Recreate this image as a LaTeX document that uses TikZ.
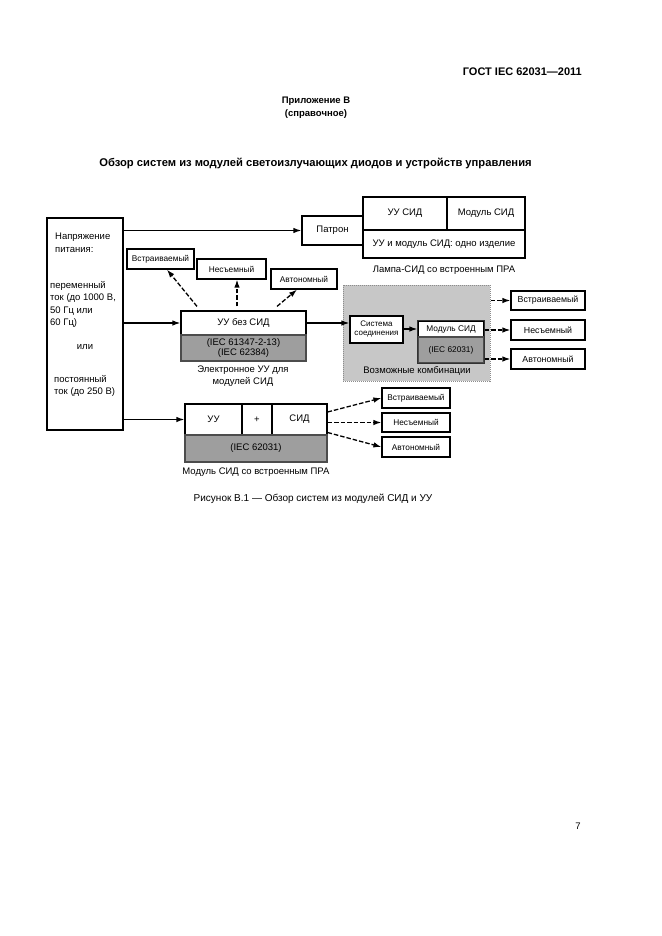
\documentclass[tikz,border=0pt]{standalone}
\usepackage{fontspec}
\setmainfont{Liberation Sans}
\usetikzlibrary{arrows.meta,calc}
\newcommand\boxfont{\fontsize{9.5}{10.5}\selectfont}
\newcommand\smallboxfont{\fontsize{8.3}{9.5}\selectfont}
\newcommand\lblfont{\fontsize{9.5}{12.5}\selectfont}
\begin{document}
\begin{tikzpicture}[x=1pt,y=-1pt,
  sz/.style n args={2}{minimum width=#1pt, minimum height=#2pt},
  box/.style={draw=black, line width=1.2pt, fill=white, inner sep=1pt, align=center, font=\boxfont},
  sbox/.style={box, font=\smallboxfont},
  iec/.style={draw=black!70, line width=1.2pt, fill=black!38, inner sep=0pt, align=center, font=\boxfont},
  arr/.style={line width=1.3pt, -{Latex[length=8pt,width=5.5pt]}},
  darr/.style={arr, dash pattern=on 4.5pt off 2pt},
  lbl/.style={inner sep=0pt, font=\lblfont, align=center}]
\useasboundingbox[fill=white] (0,0) rectangle (661,936);

% headers
\node[lbl, font=\bfseries\fontsize{11}{12}\selectfont, anchor=east] (hdr) at (582,72) {ГОСТ IEC 62031—2011};
\node[lbl, font=\bfseries\fontsize{9.5}{10}\selectfont] (app) at (316,101) {Приложение В};
\node[lbl, font=\bfseries\fontsize{9.5}{10}\selectfont] (appref) at (316,114) {(справочное)};
\node[lbl, font=\bfseries\fontsize{11.2}{12}\selectfont] (title) at (315.5,163) {Обзор систем из модулей светоизлучающих диодов и устройств управления};

% source box
\node[box, sz={76}{212}] (src) at (85,324) {};
\node[lbl, align=left, anchor=north west] (t1) at (55,233) {Напряжение\\питания:};
\node[lbl, align=left, anchor=north west] (t2) at (50,281) {переменный\\ток (до 1000 В,\\50 Гц или\\60 Гц)};
\node[lbl] (t3) at (85,347) {или};
\node[lbl, align=left, anchor=north west] (t4) at (54,375) {постоянный\\ток (до 250 В)};

% lamp
\node[box, sz={61}{29}] (patron) at (332.5,230.5) {Патрон};
\node[box, sz={84}{33}] (lampuu) at (405,213.5) {УУ СИД};
\node[box, sz={78}{33}] (lampmod) at (486,213.5) {Модуль СИД};
\node[box, sz={162}{28}] (lampone) at (444,244) {УУ и модуль СИД: одно изделие};
\node[lbl] (lampcap) at (444,270) {Лампа-СИД со встроенным ПРА};

% left small boxes
\node[sbox, sz={67}{20}] (lv) at (160.5,259) {Встраиваемый};
\node[sbox, sz={69}{20}] (ln) at (231.5,269) {Несъемный};
\node[sbox, sz={66}{20}] (la) at (304,279) {Автономный};

% control gear
\node[box, sz={125}{24}] (uub) at (243.5,323) {УУ без СИД};
\node[iec, sz={125}{26}] (uubiec) at (243.5,348) {(IEC 61347-2-13)\\(IEC 62384)};
\node[lbl] (uubcap) at (243,376) {Электронное УУ для\\модулей СИД};

% region of combinations
\node[draw=black!45, densely dotted, line width=1pt, fill=black!22, sz={147}{96}] (reg) at (416.5,333) {};
\node[lbl] (regtxt) at (417,371) {Возможные комбинации};
\node[box, sz={53}{27}, font=\fontsize{8}{9}\selectfont] (sys) at (376.5,329.5) {Система\\соединения};
\node[box, sz={66}{16}, font=\smallboxfont] (mod) at (451,329) {Модуль СИД};
\node[iec, sz={66}{26}, font=\smallboxfont] (modiec) at (451,350) {(IEC 62031)};
\draw[line width=1.6pt, black!80] (mod.north west) rectangle (modiec.south east);

% right boxes
\node[sbox, sz={74}{19}, font=\fontsize{8.8}{10}\selectfont] (rv) at (548,300.5) {Встраиваемый};
\node[sbox, sz={74}{20}, font=\fontsize{8.8}{10}\selectfont] (rn) at (548,330) {Несъемный};
\node[sbox, sz={74}{20}, font=\fontsize{8.8}{10}\selectfont] (ra) at (548,359) {Автономный};

% bottom module
\node[box, sz={57}{31}] (buu) at (213.5,419.5) {УУ};
\node[box, sz={30}{31}] (bplus) at (257,419.5) {+};
\node[box, sz={55}{31}] (bsid) at (299.5,419.5) {СИД};
\node[iec, sz={142}{27}] (biec) at (256,448.5) {(IEC 62031)};
\node[lbl] (bcap) at (256,472) {Модуль СИД со встроенным ПРА};
\node[sbox, sz={68}{20}] (bv) at (416,398) {Встраиваемый};
\node[sbox, sz={68}{19}] (bn) at (416,422.5) {Несъемный};
\node[sbox, sz={68}{20}] (ba) at (416,447) {Автономный};

\node[lbl, font=\fontsize{10}{12}\selectfont] (figcap) at (313,499) {Рисунок В.1 — Обзор систем из модулей СИД и УУ};
\node[lbl] (page) at (578,826) {7};

% connectors
\draw[arr] (src.east |- patron.west) -- (patron.west);
\draw[arr] (src.east |- uub.west) -- (uub.west);
\draw[arr] (src.east |- buu.west) -- (buu.west);
\draw[darr] ([xshift=-46.5pt,yshift=4pt]uub.north) -- ([xshift=6.5pt]lv.south);
\draw[darr] ([xshift=-6.5pt,yshift=4pt]uub.north) -- ([xshift=5.5pt]ln.south);
\draw[darr] ([xshift=33.5pt,yshift=4pt]uub.north) -- ([xshift=-7pt]la.south);
\draw[arr] (uub.east) -- (uub.east -| sys.west);
\draw[arr] (sys.east |- mod.west) -- (mod.west);
\draw[darr] (reg.east |- rv.west) -- (rv.west);
\draw[darr] (mod.east |- rn.west) -- (rn.west);
\draw[darr] (modiec.east |- ra.west) -- (ra.west);
\draw[darr] ([yshift=7.5pt]bsid.east) -- (bv.west);
\draw[darr] (bsid.east |- bn.west) -- (bn.west);
\draw[darr] ([yshift=-13pt]bsid.east) -- (ba.west);
\end{tikzpicture}
\end{document}
